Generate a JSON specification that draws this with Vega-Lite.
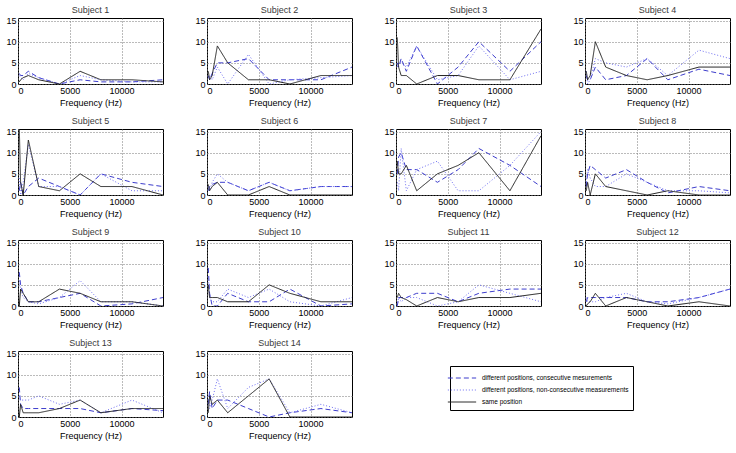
{
  "$schema": "https://vega.github.io/schema/vega-lite/v6.json",
  "padding": 5,
  "data": {"values": [
    {"s":1,"f":125,"D":2.5,"P":2,"S":0.5},{"s":1,"f":250,"D":2,"P":1.5,"S":1},{"s":1,"f":500,"D":2,"P":1,"S":1.5},{"s":1,"f":1000,"D":3,"P":2.5,"S":2},{"s":1,"f":2000,"D":1.5,"P":1.5,"S":1},{"s":1,"f":4000,"D":0,"P":0,"S":0},{"s":1,"f":6000,"D":1,"P":2,"S":3},{"s":1,"f":8000,"D":0.5,"P":1,"S":1},{"s":1,"f":11000,"D":0.5,"P":0.5,"S":1},{"s":1,"f":14000,"D":1,"P":0.5,"S":0.5},
    {"s":2,"f":125,"D":2,"P":1.5,"S":3},{"s":2,"f":250,"D":1,"P":2,"S":1},{"s":2,"f":500,"D":2.5,"P":1,"S":2},{"s":2,"f":1000,"D":5,"P":4,"S":9},{"s":2,"f":2000,"D":5,"P":0,"S":5},{"s":2,"f":4000,"D":6,"P":7,"S":1},{"s":2,"f":6000,"D":1,"P":0,"S":1},{"s":2,"f":8000,"D":1,"P":1,"S":0},{"s":2,"f":11000,"D":1,"P":1.5,"S":2},{"s":2,"f":14000,"D":4,"P":2,"S":2},
    {"s":3,"f":125,"D":5,"P":4,"S":11},{"s":3,"f":250,"D":4,"P":5,"S":4},{"s":3,"f":500,"D":6,"P":5,"S":2},{"s":3,"f":1000,"D":3,"P":4,"S":2},{"s":3,"f":2000,"D":9,"P":9,"S":0},{"s":3,"f":4000,"D":0,"P":1,"S":2},{"s":3,"f":6000,"D":4,"P":2,"S":2},{"s":3,"f":8000,"D":10,"P":9,"S":1},{"s":3,"f":11000,"D":3,"P":1,"S":1},{"s":3,"f":14000,"D":10,"P":3,"S":13},
    {"s":4,"f":125,"D":2,"P":3,"S":3},{"s":4,"f":250,"D":1,"P":0,"S":1},{"s":4,"f":500,"D":1,"P":1,"S":2},{"s":4,"f":1000,"D":4,"P":6,"S":10},{"s":4,"f":2000,"D":1,"P":5,"S":4},{"s":4,"f":4000,"D":2,"P":4,"S":2},{"s":4,"f":6000,"D":6,"P":6,"S":1},{"s":4,"f":8000,"D":1,"P":2,"S":2},{"s":4,"f":11000,"D":3.5,"P":8,"S":4},{"s":4,"f":14000,"D":2,"P":6,"S":4},
    {"s":5,"f":125,"D":1,"P":4,"S":16},{"s":5,"f":250,"D":3,"P":0,"S":3},{"s":5,"f":500,"D":0,"P":3,"S":0},{"s":5,"f":1000,"D":2,"P":12,"S":13},{"s":5,"f":2000,"D":4,"P":2,"S":2},{"s":5,"f":4000,"D":2,"P":2,"S":1},{"s":5,"f":6000,"D":0,"P":0,"S":5},{"s":5,"f":8000,"D":5,"P":5,"S":2},{"s":5,"f":11000,"D":3,"P":1,"S":2},{"s":5,"f":14000,"D":2,"P":1,"S":0},
    {"s":6,"f":125,"D":1,"P":2,"S":2.5},{"s":6,"f":250,"D":2,"P":1,"S":1},{"s":6,"f":500,"D":2.5,"P":3,"S":2},{"s":6,"f":1000,"D":3,"P":5,"S":3},{"s":6,"f":2000,"D":3,"P":3,"S":0},{"s":6,"f":4000,"D":1,"P":1,"S":0},{"s":6,"f":6000,"D":3,"P":3,"S":2},{"s":6,"f":8000,"D":1,"P":1,"S":0},{"s":6,"f":11000,"D":2,"P":2,"S":0},{"s":6,"f":14000,"D":2,"P":2,"S":0},
    {"s":7,"f":125,"D":5,"P":3,"S":8},{"s":7,"f":250,"D":9,"P":1,"S":5},{"s":7,"f":500,"D":10,"P":11,"S":5},{"s":7,"f":1000,"D":6,"P":1,"S":7},{"s":7,"f":2000,"D":6,"P":6,"S":1},{"s":7,"f":4000,"D":3,"P":8,"S":5},{"s":7,"f":6000,"D":6,"P":1,"S":7},{"s":7,"f":8000,"D":11,"P":1,"S":10},{"s":7,"f":11000,"D":7,"P":7,"S":1},{"s":7,"f":14000,"D":2,"P":15,"S":14},
    {"s":8,"f":125,"D":2,"P":3,"S":1},{"s":8,"f":250,"D":5,"P":6,"S":3},{"s":8,"f":500,"D":7,"P":4,"S":0},{"s":8,"f":1000,"D":6,"P":2,"S":5},{"s":8,"f":2000,"D":4,"P":2,"S":2},{"s":8,"f":4000,"D":6,"P":5,"S":1},{"s":8,"f":6000,"D":3,"P":3,"S":0},{"s":8,"f":8000,"D":0.5,"P":1,"S":1},{"s":8,"f":11000,"D":2,"P":1,"S":0},{"s":8,"f":14000,"D":1,"P":0.5,"S":0},
    {"s":9,"f":125,"D":8,"P":6,"S":0},{"s":9,"f":250,"D":5,"P":4,"S":4},{"s":9,"f":500,"D":3,"P":2,"S":3},{"s":9,"f":1000,"D":1,"P":1,"S":1},{"s":9,"f":2000,"D":1,"P":0.5,"S":1},{"s":9,"f":4000,"D":2,"P":2,"S":4},{"s":9,"f":6000,"D":3,"P":6,"S":3},{"s":9,"f":8000,"D":0,"P":1,"S":1},{"s":9,"f":11000,"D":0.5,"P":1,"S":1},{"s":9,"f":14000,"D":2,"P":0,"S":0},
    {"s":10,"f":125,"D":9,"P":7,"S":5},{"s":10,"f":250,"D":3,"P":2,"S":2},{"s":10,"f":500,"D":0,"P":1,"S":2},{"s":10,"f":1000,"D":0,"P":1,"S":2},{"s":10,"f":2000,"D":3,"P":4,"S":1},{"s":10,"f":4000,"D":1,"P":2,"S":1},{"s":10,"f":6000,"D":1,"P":4,"S":5},{"s":10,"f":8000,"D":4,"P":1,"S":3},{"s":10,"f":11000,"D":0,"P":0,"S":1},{"s":10,"f":14000,"D":0.5,"P":2,"S":1},
    {"s":11,"f":125,"D":0,"P":0,"S":2},{"s":11,"f":250,"D":2,"P":2,"S":3},{"s":11,"f":500,"D":2,"P":1,"S":2},{"s":11,"f":1000,"D":2,"P":2,"S":1.5},{"s":11,"f":2000,"D":3,"P":2,"S":0},{"s":11,"f":4000,"D":3,"P":0,"S":2},{"s":11,"f":6000,"D":1,"P":1,"S":1},{"s":11,"f":8000,"D":3,"P":5,"S":2},{"s":11,"f":11000,"D":4,"P":3,"S":2},{"s":11,"f":14000,"D":4,"P":1,"S":3},
    {"s":12,"f":125,"D":1,"P":2,"S":0},{"s":12,"f":250,"D":2,"P":1,"S":0.5},{"s":12,"f":500,"D":2,"P":1,"S":1},{"s":12,"f":1000,"D":2,"P":1,"S":3},{"s":12,"f":2000,"D":2,"P":2,"S":0},{"s":12,"f":4000,"D":2,"P":3,"S":2},{"s":12,"f":6000,"D":1,"P":1,"S":1},{"s":12,"f":8000,"D":1,"P":0.5,"S":0},{"s":12,"f":11000,"D":2,"P":2,"S":1},{"s":12,"f":14000,"D":4,"P":4,"S":0},
    {"s":13,"f":125,"D":7,"P":5,"S":0},{"s":13,"f":250,"D":3,"P":4,"S":3},{"s":13,"f":500,"D":2,"P":4,"S":1},{"s":13,"f":1000,"D":2,"P":4,"S":1},{"s":13,"f":2000,"D":2,"P":5,"S":1},{"s":13,"f":4000,"D":2,"P":3,"S":2},{"s":13,"f":6000,"D":2,"P":4,"S":4},{"s":13,"f":8000,"D":1,"P":1,"S":1},{"s":13,"f":11000,"D":2,"P":4,"S":2},{"s":13,"f":14000,"D":1.5,"P":1,"S":2},
    {"s":14,"f":125,"D":3,"P":5,"S":1},{"s":14,"f":250,"D":6,"P":2,"S":5},{"s":14,"f":500,"D":2,"P":4,"S":3},{"s":14,"f":1000,"D":4,"P":9,"S":4},{"s":14,"f":2000,"D":4,"P":2,"S":1},{"s":14,"f":4000,"D":2,"P":7,"S":5},{"s":14,"f":6000,"D":0,"P":9,"S":9},{"s":14,"f":8000,"D":1,"P":1,"S":0},{"s":14,"f":11000,"D":2,"P":3,"S":0},{"s":14,"f":14000,"D":1,"P":1,"S":0}
  ]},
  "transform": [{"fold": ["D", "P", "S"], "as": ["series", "v"]}],
  "facet": {
    "field": "s",
    "type": "ordinal",
    "header": {
      "title": null,
      "labelExpr": "'Subject ' + datum.value",
      "labelFont": "Liberation Sans",
      "labelFontSize": 9,
      "labelFontWeight": "normal",
      "labelPadding": 2,
      "labelColor": "#3a3a3a"
    }
  },
  "columns": 4,
  "spacing": {"column": 30, "row": 8},
  "spec": {
    "width": 145,
    "height": 66,
    "mark": {"type": "line", "strokeWidth": 1, "clip": true},
    "encoding": {
      "x": {
        "field": "f",
        "type": "quantitative",
        "scale": {"domain": [0, 14000], "nice": false},
        "axis": {"title": "Frequency (Hz)", "values": [0, 5000, 10000], "format": "d"}
      },
      "y": {
        "field": "v",
        "type": "quantitative",
        "scale": {"domain": [0, 15.6], "nice": false},
        "axis": {"title": null, "values": [0, 5, 10, 15]}
      },
      "color": {
        "field": "series",
        "type": "nominal",
        "scale": {"domain": ["D", "P", "S"], "range": ["#3d3dcc", "#6f6ff2", "#222222"]},
        "legend": {
          "orient": "none",
          "legendX": 432,
          "legendY": 348,
          "title": null,
          "labelExpr": "datum.value == 'D' ? 'different positions, consecutive mesurements' : datum.value == 'P' ? 'different positions, non-consecutive measurements' : 'same position'"
        }
      },
      "strokeDash": {
        "field": "series",
        "type": "nominal",
        "scale": {"domain": ["D", "P", "S"], "range": [[5, 3], [1, 2], [1, 0]]},
        "legend": {
          "orient": "none",
          "legendX": 432,
          "legendY": 348,
          "title": null,
          "labelExpr": "datum.value == 'D' ? 'different positions, consecutive mesurements' : datum.value == 'P' ? 'different positions, non-consecutive measurements' : 'same position'"
        }
      }
    }
  },
  "resolve": {"axis": {"x": "independent", "y": "independent"}},
  "config": {
    "font": "Liberation Sans",
    "view": {"stroke": "#000", "strokeWidth": 1},
    "header": {"labelFontWeight": "normal", "titleFontWeight": "normal", "labelFontSize": 9},
    "headerFacet": {"labelFontWeight": "normal", "titleFontWeight": "normal"},
    "axis": {
      "domain": false,
      "ticks": false,
      "labelPadding": 2,
      "labelFont": "Liberation Sans",
      "labelFontSize": 9,
      "labelColor": "#000",
      "titleFont": "Liberation Sans",
      "titleFontSize": 9,
      "titleFontWeight": "normal",
      "titleColor": "#000",
      "titlePadding": 3,
      "grid": true,
      "gridColor": "#777",
      "gridDash": [1, 2],
      "gridOpacity": 1
    },
    "legend": {
      "symbolType": "M-2,0H2",
      "symbolSize": 200,
      "symbolStrokeWidth": 1,
      "labelOffset": 12,
      "labelFont": "Liberation Sans",
      "labelFontSize": 6.5,
      "labelColor": "#000",
      "labelLimit": 400,
      "rowPadding": 0,
      "padding": 4,
      "strokeColor": "#000",
      "fillColor": "#fff"
    }
  }
}
